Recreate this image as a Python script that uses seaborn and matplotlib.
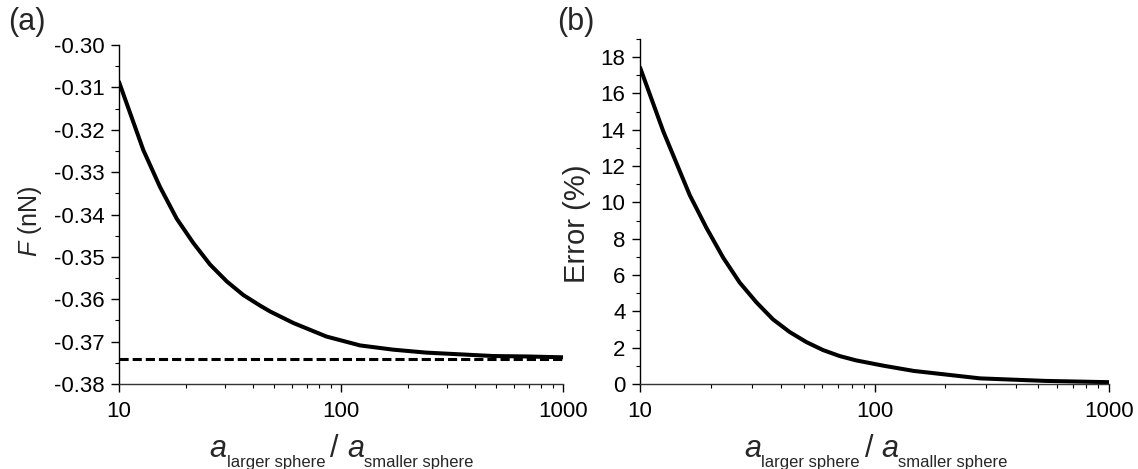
import numpy as np
import pandas as pd
import matplotlib
matplotlib.use("Agg")
import matplotlib.pyplot as plt
import matplotlib.ticker as mticker
import seaborn as sns

# ---- data ----
ratio_F = [10, 10.83, 12.87, 15.3, 18.2, 21.6, 25.7, 30.6, 36.3, 43.2, 48, 61, 86,
           122, 172, 243, 344, 485, 686, 1000]
force_nN = [-0.3087, -0.3138, -0.3248, -0.3335, -0.3410, -0.3467, -0.3518, -0.3558,
            -0.3590, -0.3615, -0.3629, -0.3656, -0.3688, -0.3709, -0.3719, -0.3726,
            -0.3730, -0.3734, -0.3735, -0.3737]
F_limit = -0.3741

ratio_err = [10, 12.58, 16.3, 19.2, 22.6, 26.6, 31.4, 36.9, 43.5, 51.2, 60.3, 71,
             83.5, 110, 147, 282, 537, 1000]
error_pct = [17.44, 13.9, 10.4, 8.6, 6.97, 5.59, 4.49, 3.56, 2.86, 2.31, 1.87,
             1.54, 1.30, 1.00, 0.72, 0.31, 0.17, 0.10]

x_major = [10, 100, 1000]
x_major_labels = ["10", "100", "1000"]

sns.set_theme(style="ticks")
plt.rcParams["font.family"] = ["Liberation Sans", "DejaVu Sans"]
plt.rcParams["axes.unicode_minus"] = False
plt.rcParams["mathtext.fontset"] = "custom"
plt.rcParams["mathtext.rm"] = "Liberation Sans"
plt.rcParams["mathtext.it"] = "Liberation Sans:italic"

W, H = 1138, 469
fig = plt.figure(figsize=(W / 100, H / 100), dpi=100)
axA = fig.add_axes([119 / W, 1 - 384 / H, 444 / W, 339 / H])
axB = fig.add_axes([640 / W, 1 - 384 / H, 469 / W, 345 / H])

dfF = pd.DataFrame({"ratio": ratio_F, "F": force_nN})
dfE = pd.DataFrame({"ratio": ratio_err, "err": error_pct})

sns.lineplot(data=dfF, x="ratio", y="F", ax=axA, color="black", lw=2.9)
axA.axhline(F_limit, color="black", lw=2.2, ls=(0, (3, 1.3)))
sns.lineplot(data=dfE, x="ratio", y="err", ax=axB, color="black", lw=2.9)

for ax in (axA, axB):
    ax.set_xscale("log")
    ax.set_xlim(10, 1000)
    ax.xaxis.set_major_locator(mticker.FixedLocator(x_major))
    ax.xaxis.set_major_formatter(mticker.FixedFormatter(x_major_labels))
    ax.xaxis.set_minor_locator(mticker.LogLocator(base=10, subs=np.arange(2, 10)))
    ax.xaxis.set_minor_formatter(mticker.NullFormatter())
    for s in ("top", "right"):
        ax.spines[s].set_visible(False)
    ax.spines["left"].set_linewidth(1.0)
    ax.spines["left"].set_color("black")
    ax.spines["bottom"].set_linewidth(1.0)
    ax.spines["bottom"].set_color("#333333")
    ax.tick_params(which="major", direction="out", length=6, width=1, labelsize=16,
                   colors="black")
    ax.tick_params(which="minor", direction="out", length=3, width=0.8, colors="black")
    ax.tick_params(axis="x", which="major", pad=6)
    ax.tick_params(axis="y", which="major", pad=4.5)
    ax.set_xlabel("")

axA.set_ylim(-0.38, -0.30)
axA.yaxis.set_major_locator(mticker.MultipleLocator(0.01))
axA.yaxis.set_minor_locator(mticker.MultipleLocator(0.005))
axA.yaxis.set_major_formatter(mticker.FormatStrFormatter("%.2f"))
axA.set_ylabel(r"$\mathit{F}$ (nN)", fontsize=18)
axA.yaxis.set_label_coords(-0.169, 0.48)

axB.set_ylim(0, 19)
axB.yaxis.set_major_locator(mticker.MultipleLocator(2))
axB.yaxis.set_minor_locator(mticker.MultipleLocator(1))
axB.set_ylabel("Error (%)", fontsize=21)
axB.yaxis.set_label_coords(-0.105, 0.465)

fig.text(8 / W, 1 - 30 / H, "(a)", fontsize=22, ha="left", va="baseline")
fig.text(557 / W, 1 - 30 / H, "(b)", fontsize=22, ha="left", va="baseline")

# composite x label: a_{larger sphere} / a_{smaller sphere}
renderer = fig.canvas.get_renderer()


def composite_label(cx_px, base_from_top):
    pieces = [("a", 22, "italic", 0, 0),
              ("larger sphere", 12, "normal", -10, 5),
              ("/", 22, "normal", 0, 8),
              ("a", 22, "italic", 0, 0),
              ("smaller sphere", 12, "normal", -10, 0)]
    texts, widths = [], []
    for s, size, style, dy, gap in pieces:
        t = fig.text(0, 0, s, fontsize=size, style=style, ha="left", va="baseline")
        texts.append(t)
        widths.append(t.get_window_extent(renderer).width)
    total = sum(widths) + sum(p[4] for p in pieces[:-1])
    x = cx_px - total / 2
    base = H - base_from_top
    for t, w, p in zip(texts, widths, pieces):
        t.set_position((x / W, (base + p[3]) / H))
        x += w + p[4]


composite_label(341.5, 457)
composite_label(876, 457)

fig.savefig("out.png", dpi=100)
